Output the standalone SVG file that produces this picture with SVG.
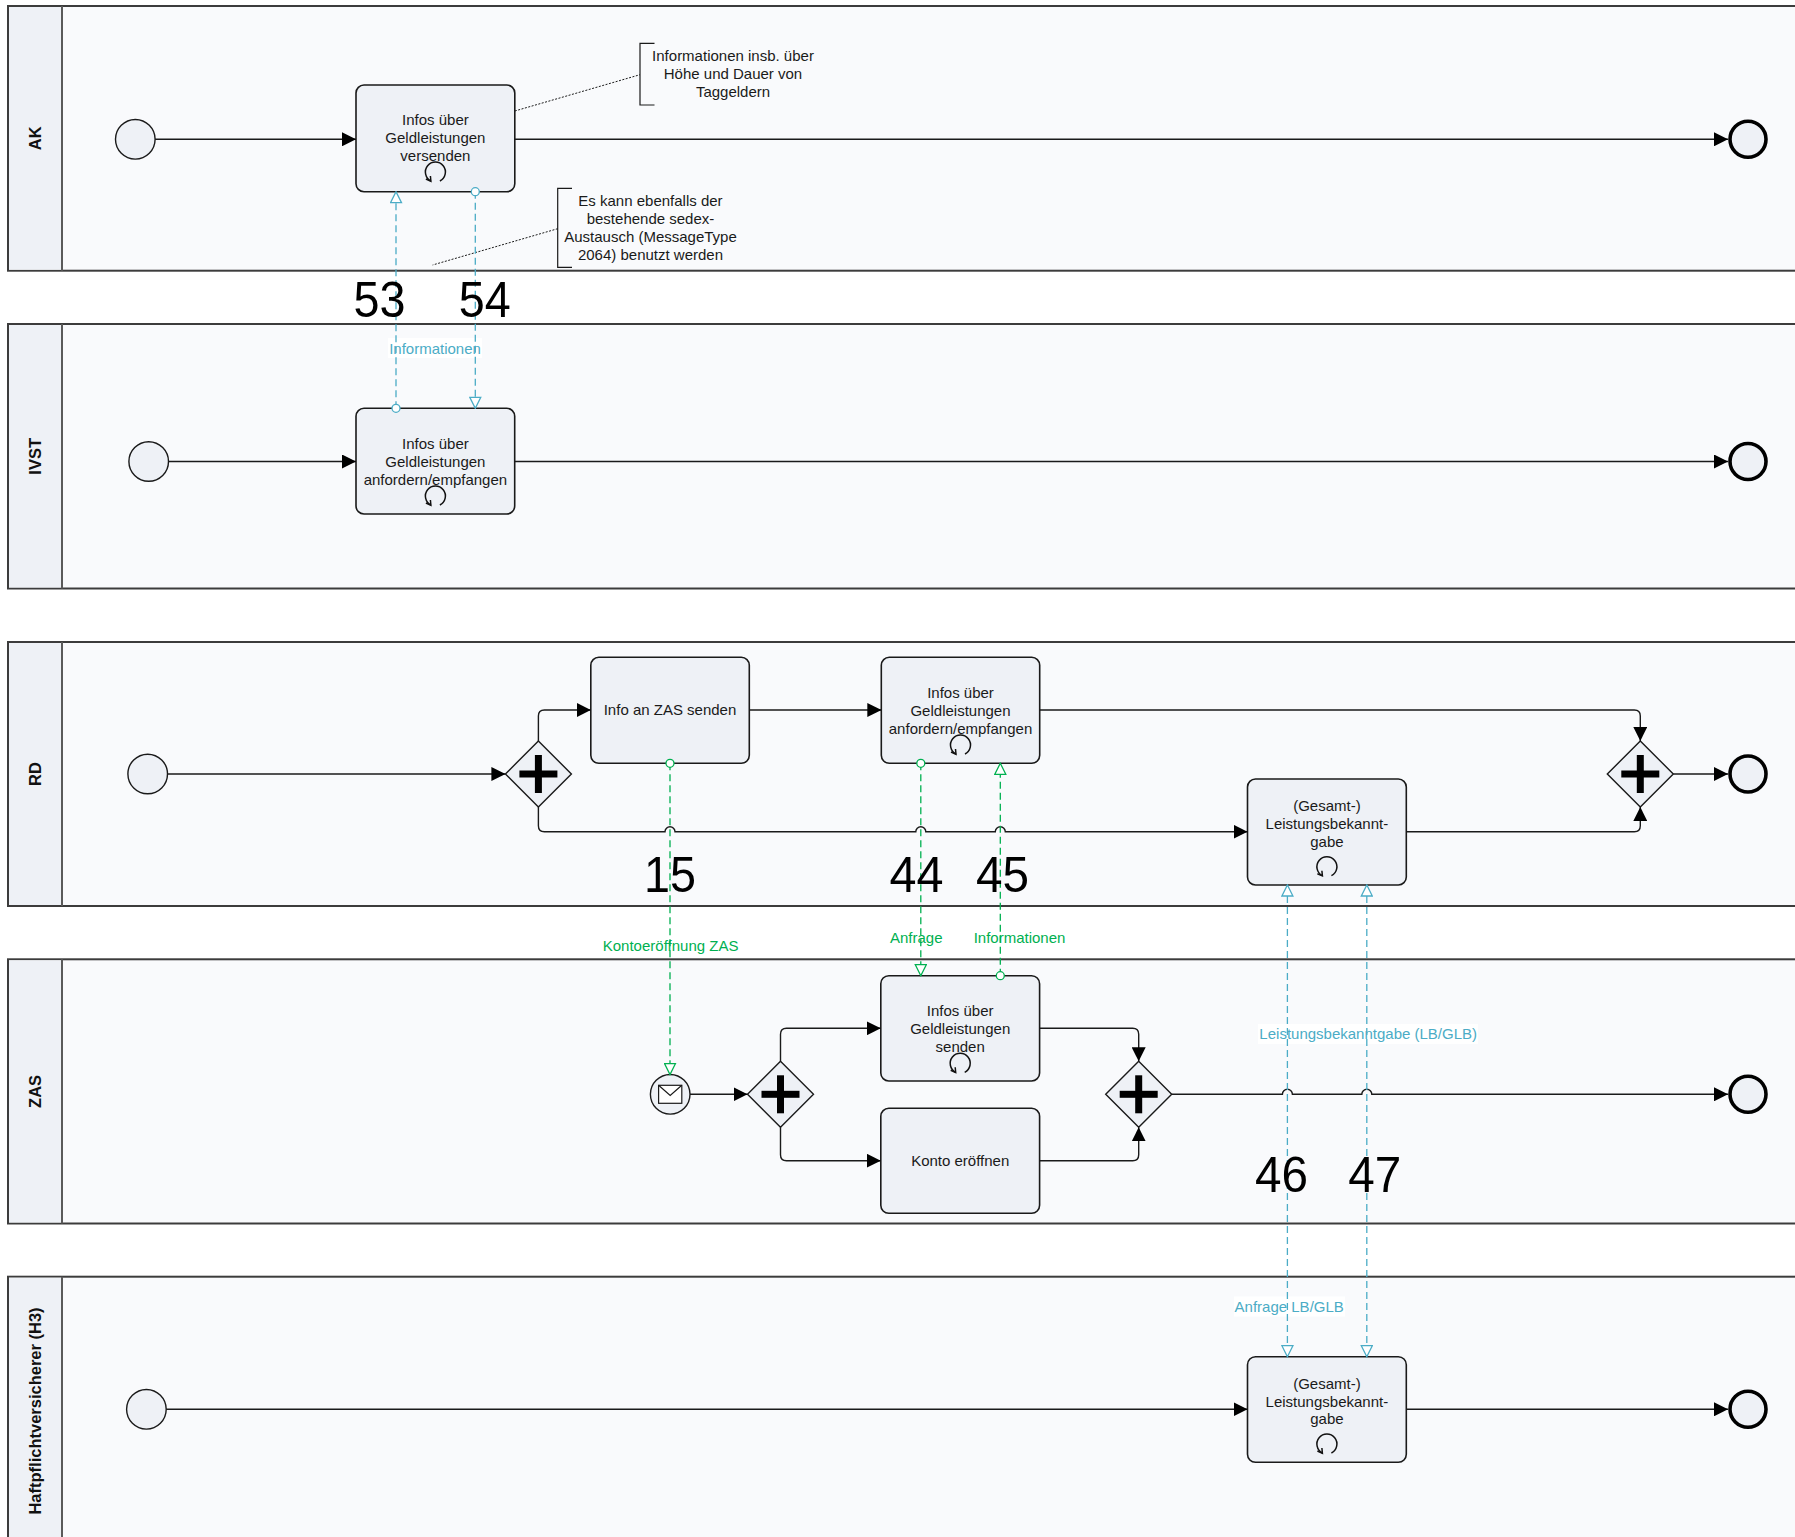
<svg xmlns="http://www.w3.org/2000/svg" width="1795" height="1537" viewBox="0 0 1795 1537">
<style>
.pool{fill:#f9fafc;stroke:#3c3c3c;stroke-width:2}
.hdr{fill:#eef1f6;stroke:none}
.div{stroke:#5a5a5a;stroke-width:2}
.lane{font-family:"Liberation Sans",Arial,sans-serif;font-size:16.5px;font-weight:bold;fill:#111;text-anchor:middle}
.task{fill:#eef1f6;stroke:#1a1a1a;stroke-width:1.6}
.t{font-family:"Liberation Sans",Arial,sans-serif;font-size:15px;fill:#1a1a1a;text-anchor:middle}
.ev{fill:#eef1f6;stroke:#1a1a1a;stroke-width:1.4}
.end{fill:#eef1f6;stroke:#000;stroke-width:3.6}
.gw{fill:#eef1f6;stroke:#1a1a1a;stroke-width:1.4}
.flow{fill:none;stroke:#1a1a1a;stroke-width:1.4;marker-end:url(#arr)}
.loop{fill:none;stroke:#111;stroke-width:1.5}
.mc{fill:none;stroke:#4bacc6;stroke-width:1.3;stroke-dasharray:7 4}
.mg{fill:none;stroke:#00b050;stroke-width:1.3;stroke-dasharray:7 4}
.lc{font-family:"Liberation Sans",Arial,sans-serif;font-size:15px;fill:#4bacc6;text-anchor:middle}
.lg{font-family:"Liberation Sans",Arial,sans-serif;font-size:15px;fill:#00b050;text-anchor:middle}
.num{font-family:"Liberation Sans",Arial,sans-serif;font-size:50px;fill:#000;text-anchor:middle}
.ann{fill:none;stroke:#1a1a1a;stroke-width:1.2}
.assoc{fill:none;stroke:#1a1a1a;stroke-width:1;stroke-dasharray:2 1.5}
.lbg{fill:#ffffff}
</style>
<defs>
<marker id="arr" viewBox="0 0 14 14" refX="14" refY="7" markerWidth="14" markerHeight="14" markerUnits="userSpaceOnUse" orient="auto"><path d="M0,0 L14,7 L0,14 z" fill="#000"/></marker>
<marker id="tc" viewBox="-1 -1 13 13" refX="11" refY="5.5" markerWidth="13" markerHeight="13" markerUnits="userSpaceOnUse" orient="auto-start-reverse"><path d="M0,0 L11,5.5 L0,11 z" fill="#fff" stroke="#4bacc6" stroke-width="1.3"/></marker>
<marker id="tg" viewBox="-1 -1 13 13" refX="11" refY="5.5" markerWidth="13" markerHeight="13" markerUnits="userSpaceOnUse" orient="auto-start-reverse"><path d="M0,0 L11,5.5 L0,11 z" fill="#fff" stroke="#00b050" stroke-width="1.3"/></marker>
<marker id="cc" viewBox="-6 -6 12 12" refX="0" refY="0" markerWidth="12" markerHeight="12" markerUnits="userSpaceOnUse"><circle r="4" fill="#fff" stroke="#4bacc6" stroke-width="1.3"/></marker>
<marker id="cg" viewBox="-6 -6 12 12" refX="0" refY="0" markerWidth="12" markerHeight="12" markerUnits="userSpaceOnUse"><circle r="4" fill="#fff" stroke="#00b050" stroke-width="1.3"/></marker>
<g id="loopm"><path class="loop" d="M4.5,9 A10,10 0 1 0 -4.5,9"/><path class="loop" d="M-9.5,7 L-4.5,9.2 L-5,4"/></g>
<g id="plus"><rect x="-19" y="-3.5" width="38" height="7" fill="#000"/><rect x="-3.5" y="-19" width="7" height="38" fill="#000"/></g>
</defs>

<!-- pools -->
<g id="pool-AK"><rect class="pool" x="8" y="6" width="1800" height="264.7"/><rect class="hdr" x="9" y="7" width="53" height="262.7"/><line class="div" x1="62" y1="6" x2="62" y2="270.7"/><text class="lane" transform="translate(35,138.3) rotate(-90)" y="6">AK</text></g>
<g id="pool-IVST"><rect class="pool" x="8" y="324" width="1800" height="264.5"/><rect class="hdr" x="9" y="325" width="53" height="262.5"/><line class="div" x1="62" y1="324" x2="62" y2="588.5"/><text class="lane" transform="translate(35,456.3) rotate(-90)" y="6">IVST</text></g>
<g id="pool-RD"><rect class="pool" x="8" y="642" width="1800" height="264"/><rect class="hdr" x="9" y="643" width="53" height="262"/><line class="div" x1="62" y1="642" x2="62" y2="906"/><text class="lane" transform="translate(35,774) rotate(-90)" y="6">RD</text></g>
<g id="pool-ZAS"><rect class="pool" x="8" y="959.3" width="1800" height="264.2"/><rect class="hdr" x="9" y="960.3" width="53" height="262.2"/><line class="div" x1="62" y1="959.3" x2="62" y2="1223.5"/><text class="lane" transform="translate(35,1091.4) rotate(-90)" y="6">ZAS</text></g>
<g id="pool-H3"><rect class="pool" x="8" y="1276.7" width="1800" height="270"/><rect class="hdr" x="9" y="1277.7" width="53" height="268"/><line class="div" x1="62" y1="1276.7" x2="62" y2="1546"/><text class="lane" transform="translate(35,1411) rotate(-90)" y="6">Haftpflichtversicherer (H3)</text></g>

<!-- label backgrounds -->
<g id="label-bg">
<rect class="lbg" x="388" y="338" width="94" height="20"/>
<rect class="lbg" x="1258" y="1024" width="220" height="20"/>
<rect class="lbg" x="1234" y="1296.5" width="111" height="20"/>
</g>

<!-- AK nodes -->
<g id="ak-start"><circle class="ev" cx="135.3" cy="139.3" r="19.8"/></g>
<g id="ak-task"><rect class="task" x="356" y="85" width="158.8" height="106.7" rx="8"/>
<text class="t" x="435.4" y="125.3">Infos über</text><text class="t" x="435.4" y="143.3">Geldleistungen</text><text class="t" x="435.4" y="161.3">versenden</text>
<use href="#loopm" x="435.4" y="172"/></g>
<g id="ak-end"><circle class="end" cx="1748" cy="139.3" r="18"/></g>
<g id="ak-ann1"><path class="ann" d="M654.5,43.3 L640,43.3 L640,105 L654.5,105"/>
<text class="t" x="733" y="61.3">Informationen insb. über</text><text class="t" x="733" y="79.3">Höhe und Dauer von</text><text class="t" x="733" y="97.3">Taggeldern</text></g>
<g id="ak-ann2"><path class="ann" d="M572,188.3 L557.7,188.3 L557.7,267.3 L572,267.3"/>
<text class="t" x="650.5" y="206.3">Es kann ebenfalls der</text><text class="t" x="650.5" y="224.3">bestehende sedex-</text><text class="t" x="650.5" y="242.3">Austausch (MessageType</text><text class="t" x="650.5" y="260.3">2064) benutzt werden</text></g>

<!-- IVST nodes -->
<g id="ivst-start"><circle class="ev" cx="148.7" cy="461.5" r="19.8"/></g>
<g id="ivst-task"><rect class="task" x="356" y="408.3" width="158.7" height="105.7" rx="8"/>
<text class="t" x="435.4" y="448.6">Infos über</text><text class="t" x="435.4" y="466.6">Geldleistungen</text><text class="t" x="435.4" y="484.6">anfordern/empfangen</text>
<use href="#loopm" x="435.4" y="496"/></g>
<g id="ivst-end"><circle class="end" cx="1748" cy="461.5" r="18"/></g>

<!-- RD nodes -->
<g id="rd-start"><circle class="ev" cx="147.7" cy="774" r="19.8"/></g>
<g id="rd-gw1"><polygon class="gw" points="538.4,741 571.4,774 538.4,807 505.4,774"/><use href="#plus" x="538.4" y="774"/></g>
<g id="rd-task1"><rect class="task" x="590.8" y="657.3" width="158.5" height="106" rx="8"/><text class="t" x="670" y="715.3">Info an ZAS senden</text></g>
<g id="rd-task2"><rect class="task" x="881.3" y="657.3" width="158.4" height="106" rx="8"/>
<text class="t" x="960.5" y="698">Infos über</text><text class="t" x="960.5" y="716">Geldleistungen</text><text class="t" x="960.5" y="734">anfordern/empfangen</text>
<use href="#loopm" x="960.5" y="745"/></g>
<g id="rd-task3"><rect class="task" x="1247.5" y="779" width="158.8" height="106" rx="8"/>
<text class="t" x="1326.9" y="811">(Gesamt-)</text><text class="t" x="1326.9" y="829">Leistungsbekannt-</text><text class="t" x="1326.9" y="847">gabe</text>
<use href="#loopm" x="1326.9" y="866.7"/></g>
<g id="rd-gw2"><polygon class="gw" points="1640.3,741 1673.3,774 1640.3,807 1607.3,774"/><use href="#plus" x="1640.3" y="774"/></g>
<g id="rd-end"><circle class="end" cx="1748" cy="774" r="18"/></g>

<!-- ZAS nodes -->
<g id="zas-start"><circle class="ev" cx="670.2" cy="1094.3" r="19.8"/>
<rect x="658.6" y="1085.3" width="23.2" height="18" fill="#fff" stroke="#1a1a1a" stroke-width="1.2"/><path d="M658.6,1085.3 L670.2,1095.5 L681.8,1085.3" fill="none" stroke="#1a1a1a" stroke-width="1.2"/></g>
<g id="zas-gw1"><polygon class="gw" points="780.5,1061.3 813.5,1094.3 780.5,1127.3 747.5,1094.3"/><use href="#plus" x="780.5" y="1094.3"/></g>
<g id="zas-task1"><rect class="task" x="880.8" y="975.7" width="158.8" height="105.3" rx="8"/>
<text class="t" x="960.2" y="1016.3">Infos über</text><text class="t" x="960.2" y="1034.3">Geldleistungen</text><text class="t" x="960.2" y="1052.3">senden</text>
<use href="#loopm" x="960.2" y="1063.3"/></g>
<g id="zas-task2"><rect class="task" x="880.8" y="1108.3" width="158.8" height="105" rx="8"/><text class="t" x="960.2" y="1166">Konto eröffnen</text></g>
<g id="zas-gw2"><polygon class="gw" points="1138.7,1061.3 1171.7,1094.3 1138.7,1127.3 1105.7,1094.3"/><use href="#plus" x="1138.7" y="1094.3"/></g>
<g id="zas-end"><circle class="end" cx="1748" cy="1094.3" r="18"/></g>

<!-- H3 nodes -->
<g id="h3-start"><circle class="ev" cx="146.4" cy="1409.3" r="19.8"/></g>
<g id="h3-task"><rect class="task" x="1247.5" y="1356.7" width="158.8" height="105.6" rx="8"/>
<text class="t" x="1326.9" y="1388.6">(Gesamt-)</text><text class="t" x="1326.9" y="1406.6">Leistungsbekannt-</text><text class="t" x="1326.9" y="1424.3">gabe</text>
<use href="#loopm" x="1326.9" y="1444"/></g>
<g id="h3-end"><circle class="end" cx="1748" cy="1409.3" r="18"/></g>

<!-- connectors -->
<g id="connectors">
<path class="flow" d="M155.1,139.3 L356,139.3"/>
<path class="flow" d="M514.8,139.3 L1728,139.3"/>
<path class="flow" d="M168.5,461.5 L356,461.5"/>
<path class="flow" d="M514.7,461.5 L1728,461.5"/>
<path class="flow" d="M167.5,774 L505.4,774"/>
<path class="flow" d="M538.4,741 L538.4,716 Q538.4,710 544.4,710 L590.8,710"/>
<path class="flow" d="M749.3,710 L881.3,710"/>
<path class="flow" d="M1039.7,710 L1634.3,710 Q1640.3,710 1640.3,716 L1640.3,741"/>
<path class="flow" d="M538.4,807 L538.4,825.7 Q538.4,831.7 544.4,831.7 L665,831.7 A5,5 0 0 1 675,831.7 L915.8,831.7 A5,5 0 0 1 925.8,831.7 L995.3,831.7 A5,5 0 0 1 1005.3,831.7 L1247.5,831.7"/>
<path class="flow" d="M1406.3,831.7 L1634.3,831.7 Q1640.3,831.7 1640.3,825.7 L1640.3,807"/>
<path class="flow" d="M1673.3,774 L1728,774"/>
<path class="flow" d="M690,1094.3 L747.5,1094.3"/>
<path class="flow" d="M780.5,1061.3 L780.5,1034.3 Q780.5,1028.3 786.5,1028.3 L880.8,1028.3"/>
<path class="flow" d="M780.5,1127.3 L780.5,1154.7 Q780.5,1160.7 786.5,1160.7 L880.8,1160.7"/>
<path class="flow" d="M1039.6,1028.3 L1132.7,1028.3 Q1138.7,1028.3 1138.7,1034.3 L1138.7,1061.3"/>
<path class="flow" d="M1039.6,1160.7 L1132.7,1160.7 Q1138.7,1160.7 1138.7,1154.7 L1138.7,1127.3"/>
<path class="flow" d="M1171.7,1094.3 L1282.4,1094.3 A5,5 0 0 1 1292.4,1094.3 L1361.8,1094.3 A5,5 0 0 1 1371.8,1094.3 L1728,1094.3"/>
<path class="flow" d="M166.2,1409.3 L1247.5,1409.3"/>
<path class="flow" d="M1406.3,1409.3 L1728,1409.3"/>
<!-- associations -->
<path class="assoc" d="M514.8,111 L640,74.7"/>
<path class="assoc" d="M557.7,228.7 L432.6,265"/>
<!-- message flows -->
<path class="mc" d="M396,408.3 L396,191.7" marker-start="url(#cc)" marker-end="url(#tc)"/>
<path class="mc" d="M475.3,191.7 L475.3,408.3" marker-start="url(#cc)" marker-end="url(#tc)"/>
<path class="mg" d="M670,763.3 L670,1074.5" marker-start="url(#cg)" marker-end="url(#tg)"/>
<path class="mg" d="M920.8,763.3 L920.8,975.7" marker-start="url(#cg)" marker-end="url(#tg)"/>
<path class="mg" d="M1000.3,975.7 L1000.3,763.3" marker-start="url(#cg)" marker-end="url(#tg)"/>
<path class="mc" d="M1287.4,885 L1287.4,1356.7" marker-start="url(#tc)" marker-end="url(#tc)"/>
<path class="mc" d="M1366.8,885 L1366.8,1356.7" marker-start="url(#tc)" marker-end="url(#tc)"/>
</g>

<!-- labels -->
<g id="labels">
<text class="lc" x="435" y="353.6">Informationen</text>
<text class="lg" x="670.6" y="951">Kontoeröffnung ZAS</text>
<text class="lg" x="916.3" y="943">Anfrage</text>
<text class="lg" x="1019.5" y="943">Informationen</text>
<text class="lc" x="1368.2" y="1039.3">Leistungsbekanntgabe (LB/GLB)</text>
<text class="lc" x="1289.2" y="1312">Anfrage LB/GLB</text>
<text class="num" x="379.5" y="316.7" textLength="52" lengthAdjust="spacingAndGlyphs">53</text>
<text class="num" x="484.7" y="316.7" textLength="52" lengthAdjust="spacingAndGlyphs">54</text>
<text class="num" x="670" y="891.7" textLength="52" lengthAdjust="spacingAndGlyphs">15</text>
<text class="num" x="916.5" y="891.7" textLength="54" lengthAdjust="spacingAndGlyphs">44</text>
<text class="num" x="1002.4" y="891.7" textLength="53" lengthAdjust="spacingAndGlyphs">45</text>
<text class="num" x="1281.6" y="1192.3" textLength="53" lengthAdjust="spacingAndGlyphs">46</text>
<text class="num" x="1374.7" y="1192.3" textLength="53" lengthAdjust="spacingAndGlyphs">47</text>
</g>
</svg>
